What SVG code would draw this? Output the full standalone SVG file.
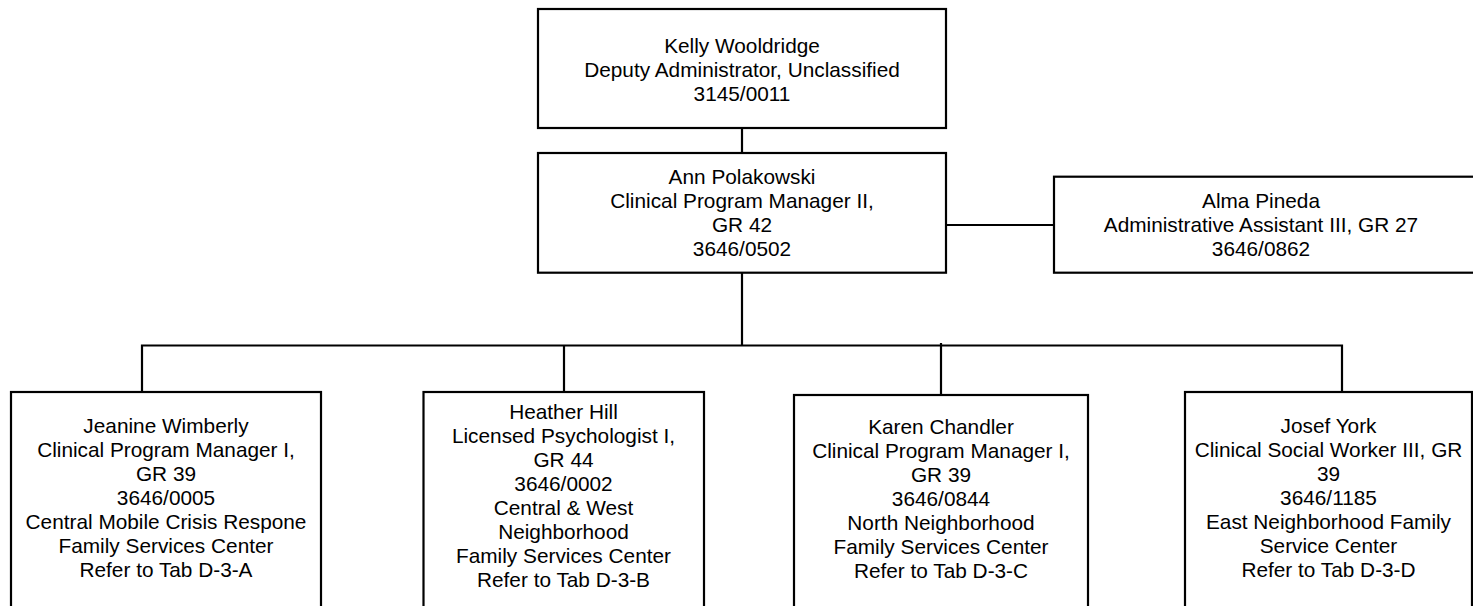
<svg xmlns="http://www.w3.org/2000/svg" width="1473" height="606" viewBox="0 0 1473 606">
<style>
.box{fill:#fff;stroke:#000;stroke-width:2.2}
.ln{fill:none;stroke:#000;stroke-width:2.2}
text{font-family:"Liberation Sans",Arial,sans-serif;font-size:20.8px;fill:#000;text-anchor:middle}
</style>
<rect width="1473" height="606" fill="#fff"/>
<g id="connectors">
<path class="ln" d="M742 128V153"/>
<path class="ln" d="M742 272.7V345.5"/>
<path class="ln" d="M946 225H1054"/>
<path class="ln" d="M142 392V345.5H1342V392"/>
<path class="ln" d="M564 345.5V392"/>
<path class="ln" d="M941 343V395"/>
</g>
<g id="kelly">
<rect class="box" x="538" y="9" width="408" height="119"/>
<text x="742" y="53">Kelly Wooldridge</text>
<text x="742" y="77">Deputy Administrator, Unclassified</text>
<text x="742" y="101">3145/0011</text>
</g>
<g id="ann">
<rect class="box" x="538" y="153" width="408" height="119.7"/>
<text x="742" y="184">Ann Polakowski</text>
<text x="742" y="208">Clinical Program Manager II,</text>
<text x="742" y="232">GR 42</text>
<text x="742" y="256">3646/0502</text>
</g>
<g id="alma">
<rect class="box" x="1054" y="176.7" width="430" height="96"/>
<text x="1261" y="207.5">Alma Pineda</text>
<text x="1261" y="231.5">Administrative Assistant III, GR 27</text>
<text x="1261" y="255.5">3646/0862</text>
</g>
<g id="jeanine">
<rect class="box" x="11" y="392" width="310" height="230"/>
<text x="166" y="432.5">Jeanine Wimberly</text>
<text x="166" y="456.5">Clinical Program Manager I,</text>
<text x="166" y="480.5">GR 39</text>
<text x="166" y="504.5">3646/0005</text>
<text x="166" y="528.5">Central Mobile Crisis Respone</text>
<text x="166" y="552.5">Family Services Center</text>
<text x="166" y="576.5">Refer to Tab D-3-A</text>
</g>
<g id="heather">
<rect class="box" x="423.5" y="392" width="280.5" height="230"/>
<text x="563.5" y="418.5">Heather Hill</text>
<text x="563.5" y="442.5">Licensed Psychologist I,</text>
<text x="563.5" y="466.5">GR 44</text>
<text x="563.5" y="490.5">3646/0002</text>
<text x="563.5" y="514.5">Central &amp; West</text>
<text x="563.5" y="538.5">Neighborhood</text>
<text x="563.5" y="562.5">Family Services Center</text>
<text x="563.5" y="586.5">Refer to Tab D-3-B</text>
</g>
<g id="karen">
<rect class="box" x="794" y="395" width="294" height="230"/>
<text x="941" y="433.5">Karen Chandler</text>
<text x="941" y="457.5">Clinical Program Manager I,</text>
<text x="941" y="481.5">GR 39</text>
<text x="941" y="505.5">3646/0844</text>
<text x="941" y="529.5">North Neighborhood</text>
<text x="941" y="553.5">Family Services Center</text>
<text x="941" y="577.5">Refer to Tab D-3-C</text>
</g>
<g id="josef">
<rect class="box" x="1185" y="392" width="287" height="230"/>
<text x="1328.5" y="432.5">Josef York</text>
<text x="1328.5" y="456.5">Clinical Social Worker III, GR</text>
<text x="1328.5" y="480.5">39</text>
<text x="1328.5" y="504.5">3646/1185</text>
<text x="1328.5" y="528.5">East Neighborhood Family</text>
<text x="1328.5" y="552.5">Service Center</text>
<text x="1328.5" y="576.5">Refer to Tab D-3-D</text>
</g>
</svg>
